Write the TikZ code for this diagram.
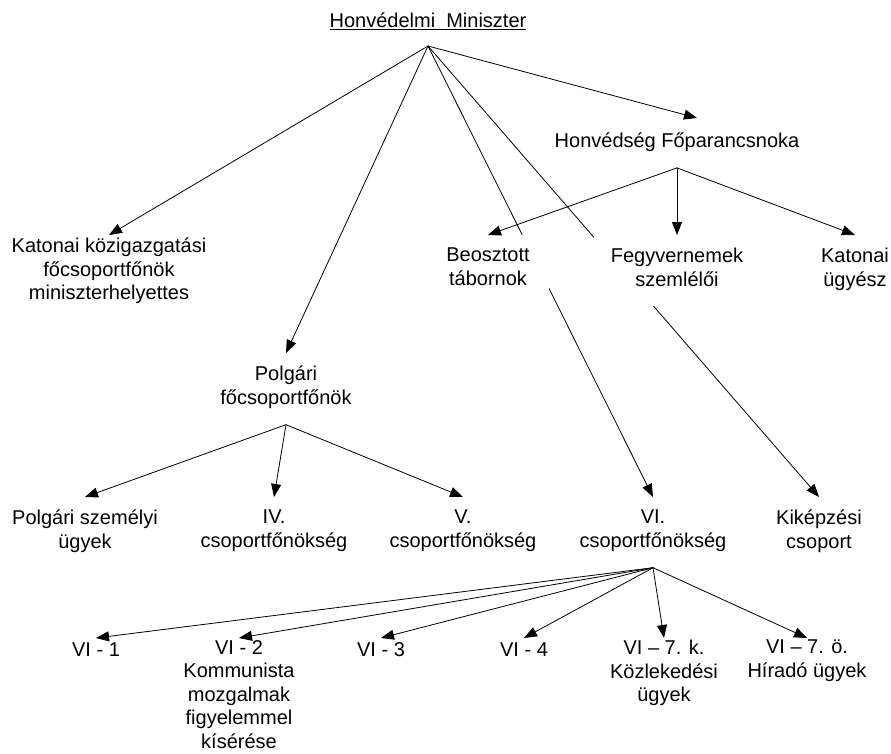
\documentclass[tikz,border=0pt]{standalone}
\usepackage{fontspec}
\setmainfont{Liberation Sans}
\usetikzlibrary{arrows.meta}
\pgfdeclarelayer{back}
\pgfsetlayers{back,main}

\begin{document}
\begin{tikzpicture}[x=1pt, y=-1pt, line join=round, line cap=round,
  unit/.style={align=center, anchor=north, inner xsep=2pt, inner ysep=13pt,
    font=\fontsize{20}{23.5}\selectfont,
    execute at begin node=\strut, execute at end node=\strut},
  leaf/.style={unit, inner ysep=2pt},
  cover/.style={unit, fill=white},
  link/.style={line width=0.8pt, -{Triangle[length=13pt, width=10pt]}}]
\useasboundingbox (0,0) rectangle (891,754);
\node[unit, anchor=south, inner ysep=11pt] (hm) at (428,46) {\underline{Honvédelmi\ \ Miniszter}};
\node[unit] (fohq) at (677,118) {Honvédség Főparancsnoka};
\node[unit, inner ysep=3pt] (kozig) at (109,235) {Katonai közigazgatási\\főcsoportfőnök\\miniszterhelyettes};
\node[cover, minimum width=122pt] (beo) at (488,235) {Beosztott\\tábornok};
\node[cover, minimum width=166pt] (fegy) at (677,235) {Fegyvernemek\\szemlélői};
\node[unit] (ugy) at (855,235) {Katonai\\ügyész};
\node[unit] (polg) at (286,353) {Polgári\\főcsoportfőnök};
\node[unit] (szem) at (85,497) {Polgári személyi\\ügyek};
\node[unit] (iv) at (274,497) {IV.\\csoportfőnökség};
\node[unit] (v) at (463,497) {V.\\csoportfőnökség};
\node[unit] (vi) at (653,497) {VI.\\csoportfőnökség};
\node[unit] (kik) at (819,497) {Kiképzési\\csoport};
\node[leaf] (vi1) at (96,638) {VI - 1};
\node[leaf] (vi2) at (239,638) {VI - 2\\Kommunista\\mozgalmak\\figyelemmel\\kísérése};
\node[leaf] (vi3) at (381,638) {VI - 3};
\node[leaf] (vi4) at (524,638) {VI - 4};
\node[leaf] (vik) at (664,638) {VI – 7. k.\\Közlekedési\\ügyek};
\node[leaf] (vio) at (807,638) {VI – 7. ö.\\Híradó ügyek};
\begin{pgfonlayer}{back}
\draw[link] (hm.south) -- (vi.north);
\draw[link] (hm.south) -- (kik.north);
\end{pgfonlayer}
\draw[link] (hm.south) -- (kozig.north);
\draw[link] (hm.south) -- (polg.north);
\draw[link] (hm.south) -- ([xshift=20pt]fohq.north);
\draw[link] (fohq.south) -- (beo.north);
\draw[link] (fohq.south) -- (fegy.north);
\draw[link] (fohq.south) -- (ugy.north);
\draw[link] (polg.south) -- (szem.north);
\draw[link] (polg.south) -- (iv.north);
\draw[link] (polg.south) -- (v.north);
\foreach \t in {vi1,vi2,vi3,vi4,vik,vio}
  \draw[link] (vi.south) -- (\t.north);
\end{tikzpicture}
\end{document}
